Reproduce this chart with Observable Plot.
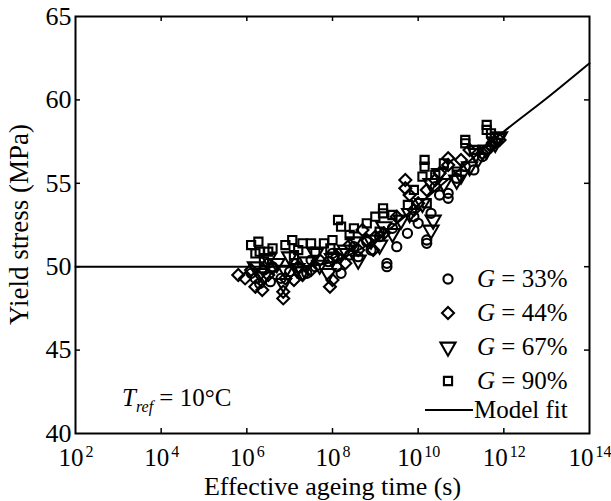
<!DOCTYPE html>
<html><head><meta charset="utf-8">
<script src="https://cdn.jsdelivr.net/npm/d3@7"></script>
<script src="https://cdn.jsdelivr.net/npm/@observablehq/plot@0.6"></script>
<style>
body{margin:0;background:#fff;}
#wrap{width:611px;height:501px;}
</style></head><body><div id="wrap"></div>
<script>
// x tick exponents (10^e) and y ticks
const xTickExponents = [2, 4, 6, 8, 10, 12, 14];
const yTickValues = [40, 45, 50, 55, 60, 65];
const xTitle = "Effective ageing time (s)";
const yTitle = "Yield stress (MPa)";
const seriesLabels = ["33%", "44%", "67%", "90%"];
const fitLabel = "Model fit";

// data: [log10(effective ageing time in s), yield stress MPa]
const g33 = [[6.1,49.6],[6.2,49.3],[6.3,49.0],[6.4,49.8],[6.55,49.1],[6.5,50.2],[6.6,50.0],[6.8,49.3],[7.0,49.7],[7.1,50.2],[7.2,49.9],[7.4,49.6],[7.5,50.4],[7.6,50.0],[7.9,50.3],[8.0,50.8],[8.1,50.0],[8.2,49.6],[8.4,50.7],[8.5,51.2],[8.6,50.6],[8.8,51.5],[8.9,51.0],[9.1,51.8],[9.27,50.2],[9.27,50.0],[9.4,52.3],[9.5,51.2],[9.75,52.0],[9.9,53.0],[10.0,52.6],[10.2,51.4],[10.2,51.6],[10.3,53.2],[10.4,54.8],[10.5,54.3],[10.7,54.1],[10.7,54.4],[10.9,55.3],[11.1,56.0],[11.3,55.8],[11.5,56.6],[11.6,57.0],[11.7,57.3],[11.8,57.5]];
const g44 = [[5.8,49.5],[5.96,49.3],[6.1,49.8],[6.2,48.8],[6.36,48.6],[6.5,49.5],[6.6,49.9],[6.85,48.1],[6.85,48.5],[6.9,49.3],[7.1,49.2],[7.2,50.0],[7.3,49.5],[7.5,49.8],[7.7,50.4],[7.94,48.8],[8.0,49.2],[8.1,50.6],[8.3,50.2],[8.4,51.3],[8.6,51.0],[8.7,52.2],[8.8,51.6],[8.95,51.0],[9.0,51.8],[9.2,52.0],[9.5,53.0],[9.7,54.7],[9.7,55.2],[9.8,54.3],[9.9,53.4],[10.0,53.8],[10.2,54.6],[10.4,55.2],[10.5,55.6],[10.7,56.5],[10.7,56.1],[11.0,56.4],[11.2,57.0],[11.5,56.8],[11.7,57.2],[11.9,57.6]];
const g67 = [[6.2,50.0],[6.3,49.6],[6.4,49.4],[6.5,50.5],[6.7,50.2],[6.85,49.0],[6.9,49.8],[7.0,50.6],[7.17,49.9],[7.3,49.7],[7.4,50.3],[7.6,50.8],[7.7,50.1],[7.9,49.6],[8.0,50.5],[8.2,50.8],[8.3,51.0],[8.5,51.5],[8.6,50.4],[8.9,51.6],[9.1,51.3],[9.2,52.4],[9.4,52.0],[9.6,52.8],[9.8,53.2],[10.1,53.8],[10.3,52.2],[10.35,52.8],[10.3,55.0],[10.5,55.6],[10.6,55.0],[10.9,55.2],[11.0,55.5],[11.2,56.0],[11.4,56.5],[11.35,56.8],[11.6,57.0],[11.85,57.7],[11.8,57.4],[11.9,57.8]];
const g90 = [[6.1,51.3],[6.27,51.5],[6.2,50.8],[6.3,50.9],[6.4,50.3],[6.5,50.9],[6.6,51.1],[6.9,51.3],[7.06,51.6],[7.1,50.7],[7.2,51.0],[7.3,51.4],[7.5,51.4],[7.6,50.9],[7.8,51.4],[7.95,51.1],[8.0,51.6],[8.13,52.8],[8.2,52.4],[8.4,51.9],[8.5,52.3],[8.8,52.6],[9.0,53.0],[9.1,52.1],[9.18,53.5],[9.18,53.2],[9.4,53.1],[9.76,53.7],[9.9,54.6],[10.1,55.4],[10.15,56.4],[10.15,56.0],[10.2,53.8],[10.4,55.5],[10.6,56.2],[10.9,55.7],[11.1,57.4],[11.1,57.6],[11.3,57.0],[11.6,58.5],[11.6,58.2],[11.7,58.0]];
const modelFit = [[2,50],[7,50],[7.5,50.05],[8,50.3],[8.5,50.85],[9,51.6],[9.5,52.6],[10,53.7],[11,55.9],[12,58.1],[13,60.1],[14,62.2]];

const FONT = "Liberation Serif";
const W = 611, H = 501, mL = 75, mR = 22, mT = 16, mB = 68;
const fsY = 26, fsX = 25, fsExp = 16, fsTitle = 26, fsLeg = 25;

const triDown = {draw(ctx, size) {
  const a = Math.sqrt(4 * size / Math.sqrt(3)), h = Math.sqrt(3) / 2 * a;
  ctx.moveTo(0, 2 * h / 3); ctx.lineTo(-a / 2, -h / 3); ctx.lineTo(a / 2, -h / 3); ctx.closePath();
}};
const symbols = ["circle", "diamond2", triDown, "square2"];
const radii = [4.6, 5.4, 5.6, 5.2];
const seriesData = [g33, g44, g67, g90];
const SW = 2.1;

const xDom = [10 ** xTickExponents[0], 10 ** xTickExponents[xTickExponents.length - 1]];
const yDom = [yTickValues[0], yTickValues[yTickValues.length - 1]];
// inward tick length (5px) expressed in data units
const tickPx = 5;
const yTickLen = tickPx * (yDom[1] - yDom[0]) / (H - mT - mB);
const xTickLenDec = tickPx * (xTickExponents[xTickExponents.length-1] - xTickExponents[0]) / (W - mL - mR);
const innerX = xTickExponents.slice(1, -1);
const innerY = yTickValues.slice(1, -1);
const e1 = xTickExponents.filter(e => String(e).length === 1);
const e2 = xTickExponents.filter(e => String(e).length === 2);
const w10 = fsX, wDig = fsExp * 0.5;
function offs(len) { const Wt = w10 + 1 + wDig * len; const s = -Wt / 2; return {end: s + w10, exp: s + w10 + 1}; }
const o1 = offs(1), o2 = offs(2);

const marks = [
  Plot.line(modelFit, {x: d => 10 ** d[0], y: d => d[1], stroke: "black", strokeWidth: 2, curve: "monotone-x"}),
  ...seriesData.map((s, i) => Plot.dot(s, {x: d => 10 ** d[0], y: d => d[1], symbol: symbols[i], r: radii[i], stroke: "black", strokeWidth: SW, fill: "none"})),
  Plot.frame({stroke: "black", strokeWidth: 2}),
  // inward ticks
  Plot.ruleX(innerX, {x: e => 10 ** e, y1: yDom[0], y2: yDom[0] + yTickLen, stroke: "black", strokeWidth: 1.5}),
  Plot.ruleX(innerX, {x: e => 10 ** e, y1: yDom[1] - yTickLen, y2: yDom[1], stroke: "black", strokeWidth: 1.5}),
  Plot.ruleY(innerY, {y: d => d, x1: xDom[0], x2: xDom[0] * 10 ** xTickLenDec, stroke: "black", strokeWidth: 1.5}),
  Plot.ruleY(innerY, {y: d => d, x1: xDom[1] / 10 ** xTickLenDec, x2: xDom[1], stroke: "black", strokeWidth: 1.5}),
  // y tick labels
  Plot.text(yTickValues, {y: d => d, frameAnchor: "left", dx: -4, textAnchor: "end", text: d => String(d), fontSize: fsY, fontFamily: FONT, fill: "black"}),
  // x tick labels: "10" + exponent
  Plot.text(e1, {x: e => 10 ** e, frameAnchor: "bottom", dx: o1.end, dy: 32, textAnchor: "end", lineAnchor: "bottom", text: () => "10", fontSize: fsX, fontFamily: FONT, fill: "black"}),
  Plot.text(e1, {x: e => 10 ** e, frameAnchor: "bottom", dx: o1.exp + 1, dy: 23, textAnchor: "start", lineAnchor: "bottom", text: e => String(e), fontSize: fsExp, fontFamily: FONT, fill: "black"}),
  Plot.text(e2, {x: e => 10 ** e, frameAnchor: "bottom", dx: o2.end, dy: 32, textAnchor: "end", lineAnchor: "bottom", text: () => "10", fontSize: fsX, fontFamily: FONT, fill: "black"}),
  Plot.text(e2, {x: e => 10 ** e, frameAnchor: "bottom", dx: o2.exp + 1, dy: 23, textAnchor: "start", lineAnchor: "bottom", text: e => String(e), fontSize: fsExp, fontFamily: FONT, fill: "black"}),
  // x axis title
  Plot.text([xTitle], {frameAnchor: "bottom", dy: 61, lineAnchor: "bottom", text: d => d, fontSize: fsTitle, fontFamily: FONT, fill: "black"})
];

const chart = Plot.plot({
  width: W, height: H, marginLeft: mL, marginRight: mR, marginTop: mT, marginBottom: mB,
  x: {type: "log", domain: xDom, axis: null},
  y: {domain: yDom, axis: null},
  style: {fontFamily: FONT, background: "white", overflow: "visible"},
  marks
});
document.getElementById("wrap").appendChild(chart);

const svg = d3.select(chart);
// y axis title, centred on the frame
svg.append("text").attr("font-family", FONT).attr("font-size", fsTitle + 1).attr("fill", "black")
  .attr("text-anchor", "middle").attr("dy", "0.32em")
  .attr("transform", `translate(19,${(mT + H - mB) / 2}) rotate(-90)`).text(yTitle);

// legend
const leg = svg.append("g").attr("font-family", FONT).attr("font-size", fsLeg).attr("fill", "black").attr("text-anchor", "start");
const legX = 448, legY0 = 279, legDy = 34, textX = 477;
seriesLabels.forEach((lab, i) => {
  const y = legY0 + i * legDy;
  const sym = typeof symbols[i] === "string" ? {circle: d3.symbolCircle, diamond2: d3.symbolDiamond2, square2: d3.symbolSquare2}[symbols[i]] : symbols[i];
  leg.append("path").attr("d", d3.symbol(sym, Math.PI * radii[i] ** 2)()).attr("transform", `translate(${legX},${y})`)
    .attr("fill", "none").attr("stroke", "black").attr("stroke-width", SW);
  const t = leg.append("text").attr("x", textX).attr("y", y).attr("dy", "0.32em");
  t.append("tspan").attr("font-style", "italic").text("G");
  t.append("tspan").text(" = " + lab);
});
const fy = 410;
leg.append("line").attr("x1", 425).attr("x2", 473).attr("y1", fy).attr("y2", fy).attr("stroke", "black").attr("stroke-width", 2);
leg.append("text").attr("x", textX - 3).attr("y", fy).attr("dy", "0.32em").text(fitLabel);

// reference temperature annotation
const ann = svg.append("text").attr("font-family", FONT).attr("font-size", fsLeg).attr("fill", "black")
  .attr("text-anchor", "start").attr("x", 122).attr("y", 406);
ann.append("tspan").attr("font-style", "italic").text("T");
ann.append("tspan").attr("font-style", "italic").attr("font-size", fsExp).attr("dy", 6).text("ref");
ann.append("tspan").attr("dy", -6).text(" = 10\u00B0C");
</script></body></html>
